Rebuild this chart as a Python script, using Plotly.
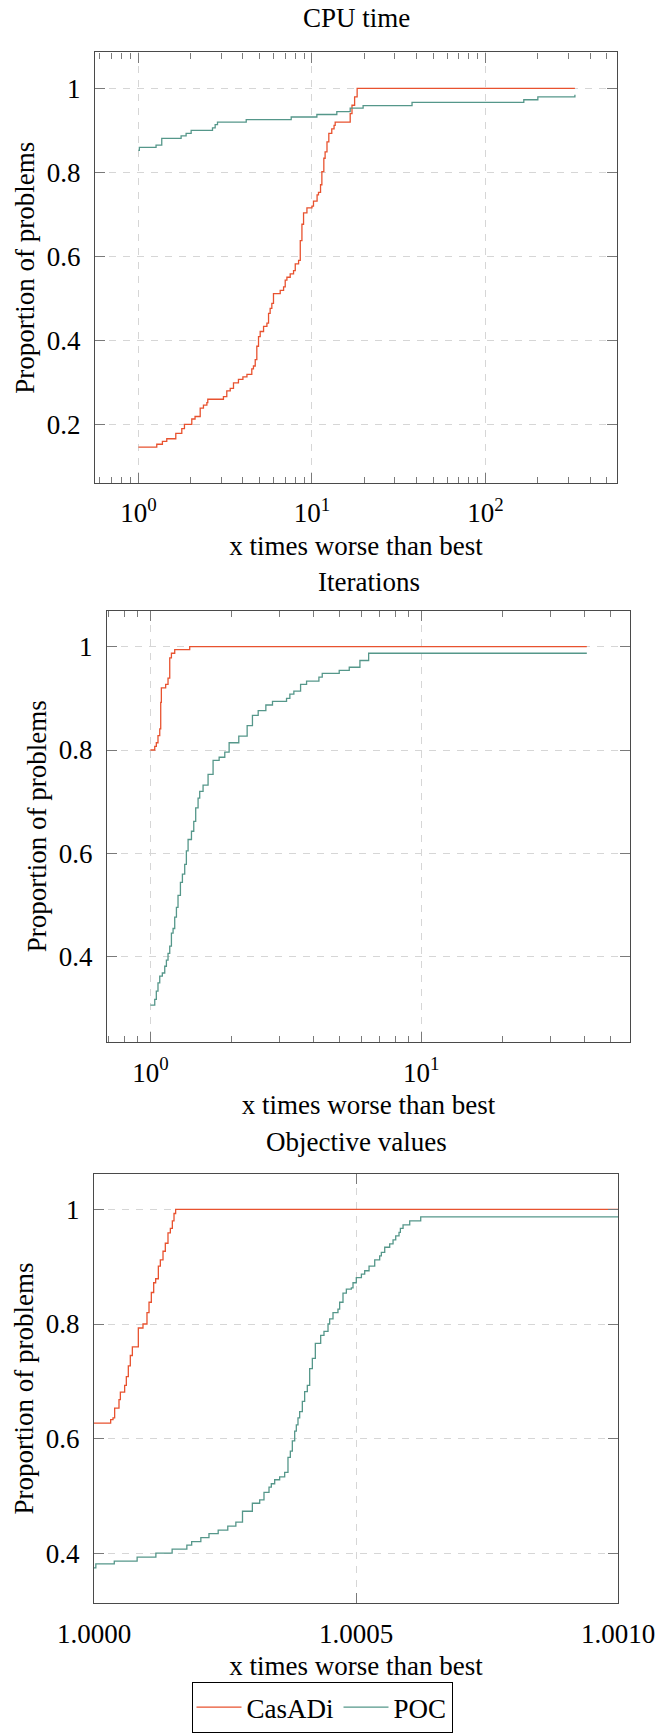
import plotly.graph_objects as go

W, H = 657, 1733

# ---------------- data ----------------
cpu_casadi_x = [1.0, 1.276, 1.375, 1.457, 1.642, 1.778, 1.842, 2.03, 2.12, 2.27, 2.37, 2.48, 2.51, 3.09, 3.23,
                3.38, 3.53, 3.77, 4.0, 4.22, 4.5, 4.6, 4.71, 4.81, 4.92, 5.03, 5.26, 5.5, 5.62, 5.74, 5.87, 6.0,
                6.56, 6.86, 7.01, 7.17, 7.49, 7.83, 8.01, 8.37, 8.56, 8.75, 8.94, 9.35, 10.0, 10.2, 10.7, 10.9,
                11.2, 11.4, 11.7, 11.9, 12.2, 12.5, 13.0, 13.4, 13.6, 16.6, 17.0, 17.6, 18.2, 327]
cpu_casadi_y = [0.147, 0.154, 0.161, 0.167, 0.180, 0.191, 0.201, 0.214, 0.220, 0.240, 0.247, 0.253, 0.261, 0.267,
                0.281, 0.287, 0.300, 0.308, 0.314, 0.320, 0.333, 0.340, 0.355, 0.387, 0.410, 0.422, 0.434, 0.442,
                0.465, 0.477, 0.489, 0.512, 0.520, 0.528, 0.544, 0.551, 0.559, 0.567, 0.583, 0.591, 0.638, 0.677,
                0.704, 0.716, 0.720, 0.732, 0.747, 0.753, 0.771, 0.802, 0.834, 0.849, 0.873, 0.893, 0.904, 0.912,
                0.920, 0.940, 0.960, 0.980, 1.0, 1.0]
cpu_poc_x = [1.0, 1.013, 1.264, 1.363, 1.762, 1.883, 2.013, 2.672, 2.768, 2.855, 4.18, 7.59, 10.67, 13.9, 16.6,
             19.7, 37.7, 166, 200, 327]
cpu_poc_y = [0.853, 0.860, 0.865, 0.881, 0.887, 0.893, 0.900, 0.906, 0.914, 0.920, 0.926, 0.932, 0.938, 0.945,
             0.953, 0.959, 0.967, 0.973, 0.980, 0.985]

it_casadi_x = [1.0, 1.038, 1.052, 1.067, 1.083, 1.092, 1.098, 1.139, 1.162, 1.179, 1.196, 1.230, 1.397, 40.8]
it_casadi_y = [0.800, 0.807, 0.814, 0.828, 0.841, 0.892, 0.920, 0.927, 0.939, 0.978, 0.987, 0.994, 1.0, 1.0]
it_poc_x = [1.0, 1.038, 1.052, 1.067, 1.083, 1.107, 1.130, 1.146, 1.162, 1.179, 1.196, 1.213, 1.230, 1.248, 1.265,
            1.291, 1.313, 1.339, 1.358, 1.378, 1.418, 1.446, 1.470, 1.500, 1.521, 1.565, 1.633, 1.704, 1.794, 1.882,
            1.953, 2.120, 2.276, 2.381, 2.500, 2.668, 2.823, 3.181, 3.272, 3.385, 3.584, 3.771, 4.188, 4.308, 4.977,
            5.42, 5.934, 6.39, 40.8]
it_poc_y = [0.307, 0.318, 0.334, 0.350, 0.363, 0.369, 0.382, 0.394, 0.407, 0.421, 0.446, 0.455, 0.477, 0.496,
            0.519, 0.544, 0.560, 0.579, 0.605, 0.627, 0.643, 0.662, 0.688, 0.707, 0.720, 0.732, 0.753, 0.780,
            0.786, 0.796, 0.814, 0.827, 0.847, 0.867, 0.876, 0.887, 0.894, 0.900, 0.908, 0.914, 0.927, 0.933,
            0.941, 0.948, 0.954, 0.960, 0.973, 0.987, 0.987]

obj_casadi_x = [1.0, 1.0000318, 1.0000363, 1.0000394, 1.0000477, 1.0000503, 1.0000585, 1.0000617, 1.0000655,
                1.0000693, 1.0000732, 1.0000846, 1.0000935, 1.0001011, 1.000105, 1.0001094, 1.0001139, 1.0001177,
                1.0001228, 1.0001266, 1.0001317, 1.0001361, 1.0001412, 1.0001457, 1.0001495, 1.0001527,
                1.0001558, 1.001]
obj_casadi_y = [0.627, 0.633, 0.636, 0.653, 0.668, 0.681, 0.693, 0.708, 0.727, 0.745, 0.760, 0.793, 0.800, 0.820,
                0.838, 0.855, 0.872, 0.879, 0.901, 0.912, 0.927, 0.941, 0.959, 0.967, 0.980, 0.993, 1.0, 1.0]
obj_poc_x = [1.0, 1.0000035, 1.0000387, 1.0000823, 1.0001181, 1.0001491, 1.0001772, 1.0001864, 1.0002039,
             1.0002194, 1.000237, 1.0002553, 1.0002707, 1.0002834, 1.0003022, 1.0003162, 1.0003244, 1.000334,
             1.0003384, 1.0003448, 1.0003543, 1.0003639, 1.0003702, 1.0003747, 1.0003785, 1.000383, 1.0003861,
             1.0003893, 1.0003925, 1.0003976, 1.000402, 1.0004071, 1.0004116, 1.0004167, 1.0004224, 1.0004326,
             1.0004389, 1.0004466, 1.0004497, 1.0004561, 1.0004656, 1.0004688, 1.0004752, 1.0004816, 1.0004911,
             1.0004943, 1.0005006, 1.0005103, 1.0005166, 1.0005249, 1.0005357, 1.0005452, 1.0005484, 1.0005548,
             1.0005643, 1.0005707, 1.0005758, 1.0005821, 1.0005847, 1.0005898, 1.0006025, 1.0006235, 1.001]
obj_poc_y = [0.374, 0.381, 0.386, 0.393, 0.400, 0.407, 0.414, 0.420, 0.427, 0.434, 0.440, 0.447, 0.454, 0.473,
             0.487, 0.493, 0.506, 0.515, 0.521, 0.528, 0.533, 0.541, 0.567, 0.578, 0.596, 0.613, 0.624, 0.636,
             0.647, 0.665, 0.682, 0.693, 0.722, 0.740, 0.766, 0.780, 0.787, 0.800, 0.809, 0.820, 0.826, 0.838,
             0.854, 0.861, 0.863, 0.872, 0.881, 0.887, 0.893, 0.901, 0.912, 0.919, 0.925, 0.934, 0.940, 0.947,
             0.954, 0.960, 0.967, 0.973, 0.980, 0.987, 0.987]

titles = ["CPU time", "Iterations", "Objective values"]
series_names = ["CasADi", "POC"]
y_ticks_cpu = [0.2, 0.4, 0.6, 0.8, 1.0]
y_ticks_other = [0.4, 0.6, 0.8, 1.0]
log_ticks = [1, 10, 100]
log_tick_text = ["10<sup>0</sup>", "10<sup>1</sup>", "10<sup>2</sup>"]
obj_ticks = [1.0, 1.0005, 1.001]
obj_tick_text = ["1.0000", "1.0005", "1.0010"]

# ---------------- style ----------------
C_CAS = "#E8522F"
C_POC = "#55978A"
FONT = "Liberation Serif"
FS = 27
GRID = "#d6d6d6"
AXIS = "#4a4a4a"
TICK = "#7a7a7a"

# plot boxes in pixels: (left, right, top, bottom)
boxes = [(95, 617, 53, 488), (107, 630, 617, 1053), (94, 618, 1186, 1620)]
title_px = [18, 588, 1154]


def dx(l, r):
    return [l / W, r / W]


def dy(t, b):
    return [1 - b / H, 1 - t / H]


def minor_vals(lo, hi):
    vals = []
    d = 0.1
    while d < 1000:
        for k in range(2, 10):
            v = k * d
            if lo < v < hi:
                vals.append(v)
        d *= 10
    return vals


def fnt(size=FS):
    return dict(family=FONT, size=size, color="black")


fig = go.Figure()

data = [
    (cpu_casadi_x, cpu_casadi_y, cpu_poc_x, cpu_poc_y),
    (it_casadi_x, it_casadi_y, it_poc_x, it_poc_y),
    (obj_casadi_x, obj_casadi_y, obj_poc_x, obj_poc_y),
]
for i, (cx, cy, px, py) in enumerate(data):
    sfx = "" if i == 0 else str(i + 1)
    show = (i == 2)
    fig.add_trace(go.Scatter(x=cx, y=cy, mode="lines", line=dict(color=C_CAS, width=1.3, shape="hv"),
                             name=series_names[0], legendgroup="c", showlegend=show,
                             xaxis="x" + sfx, yaxis="y" + sfx))
    fig.add_trace(go.Scatter(x=px, y=py, mode="lines", line=dict(color=C_POC, width=1.3, shape="hv"),
                             name=series_names[1], legendgroup="p", showlegend=show,
                             xaxis="x" + sfx, yaxis="y" + sfx))

x_ranges = [[-0.25, 2.757], [-0.16, 1.77], [1.0, 1.001]]
y_ranges = [[0.062, 1.0855], [0.2355, 1.0695], [0.3125, 1.0625]]

fig.update_layout(width=W, height=H, margin=dict(l=0, r=0, t=0, b=0), paper_bgcolor="white",
                  plot_bgcolor="white", font=fnt())

for i in range(3):
    l, r, t, b = boxes[i]
    sfx = "" if i == 0 else str(i + 1)
    yt = y_ticks_cpu if i == 0 else y_ticks_other
    xa = dict(showline=True, linecolor=AXIS, linewidth=1.2, mirror="allticks", ticks="inside",
              ticklen=10, tickcolor=TICK, tickwidth=1, showgrid=True, gridcolor=GRID, gridwidth=1,
              griddash="7px,7px", zeroline=False, automargin=False, tickfont=fnt(),
              domain=dx(l, r), anchor="y" + sfx, range=x_ranges[i], ticklabelstandoff=6,
              title=dict(text="x times worse than best", font=fnt(), standoff=8))
    if i < 2:
        xa.update(type="log", tickmode="array", tickvals=log_ticks[: 3 - i], ticktext=log_tick_text[: 3 - i],
                  minor=dict(tickmode="array", tickvals=minor_vals(10 ** x_ranges[i][0], 10 ** x_ranges[i][1]),
                             ticks="inside", ticklen=6, tickcolor=TICK, showgrid=False))
    else:
        xa.update(type="linear", tickmode="array", tickvals=obj_ticks, ticktext=obj_tick_text)
    ya = dict(showline=True, linecolor=AXIS, linewidth=1.2, mirror="allticks", ticks="inside",
              ticklen=10, tickcolor=TICK, tickwidth=1, showgrid=True, gridcolor=GRID, gridwidth=1,
              griddash="7px,7px", zeroline=False, automargin=False, tickfont=fnt(),
              domain=dy(t, b), anchor="x" + sfx, range=y_ranges[i], tickmode="array",
              tickvals=yt, ticktext=[("1" if v == 1.0 else "%.1f" % v) for v in yt],
              ticklabelstandoff=8,
              title=dict(text="Proportion of problems", font=fnt(), standoff=4))
    fig.update_layout({"xaxis" + sfx: xa, "yaxis" + sfx: ya})
    fig.add_annotation(text=titles[i], x=(l + r) / 2 / W, y=1 - title_px[i] / H, xref="paper",
                       yref="paper", xanchor="center", yanchor="middle", showarrow=False, font=fnt())

fig.update_layout(legend=dict(orientation="h", x=322 / W, xanchor="center", y=1 - 1700 / H, yanchor="top",
                              bordercolor="black", borderwidth=1, bgcolor="white",
                              font=fnt(), itemwidth=45, tracegroupgap=0))

fig.write_html("out.html")
